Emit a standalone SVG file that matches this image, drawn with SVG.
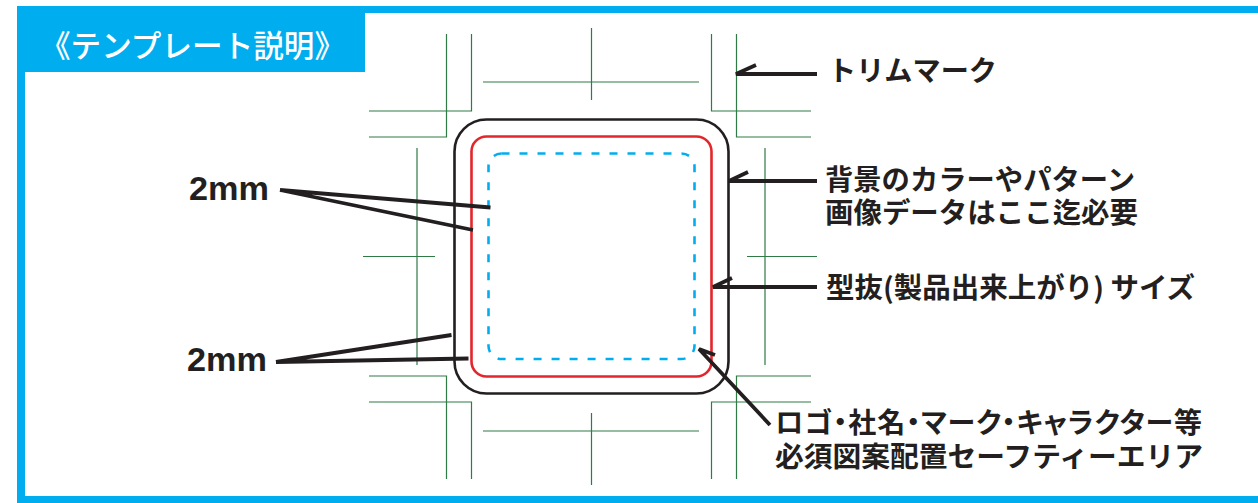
<svg xmlns="http://www.w3.org/2000/svg" width="1258" height="503" viewBox="0 0 1258 503">
<style>
.trim{stroke:#2f7a45;stroke-width:1.2;fill:none}
.lead{stroke:#231f20;stroke-width:3.8;fill:none;stroke-linejoin:miter;stroke-linecap:butt}
.lbl{font-family:"Noto Sans CJK JP","Noto Sans",sans-serif;font-size:28px;font-weight:700;fill:#231f20}
.palt{font-feature-settings:"palt"}
.mm{font-family:"Liberation Sans",Arial,sans-serif;font-size:34px;font-weight:700;fill:#231f20}
.title{font-family:"Noto Sans CJK JP","Noto Sans",sans-serif;font-size:31px;font-weight:500;fill:#ffffff}
</style>
<rect x="0" y="0" width="1258" height="503" fill="#ffffff"/>
<g id="frame">
<rect x="17" y="6" width="1300" height="600" fill="#00aeef"/>
<rect x="25" y="13" width="1300" height="483" fill="#ffffff"/>
<rect x="17" y="6" width="348" height="66" fill="#00aeef"/>
<text class="title" x="40" y="57" textLength="305" lengthAdjust="spacingAndGlyphs">《テンプレート説明》</text>
</g>
<g id="trim-marks">
<path class="trim" d="M446.5,34V137H369M471.5,34V111H369"/>
<path class="trim" d="M736.5,34V137H811M711.5,34V111H811"/>
<path class="trim" d="M446.5,479V376H369M471.5,479V402H369"/>
<path class="trim" d="M736.5,479V376H811M711.5,479V402H811"/>
<path class="trim" d="M591.5,28V100M483,82H699"/>
<path class="trim" d="M591.5,413V485M483,431H699"/>
<path class="trim" d="M417,148V365M363,256.5H435"/>
<path class="trim" d="M765,148V365M747,256.5H817"/>
</g>
<g id="bleed">
<rect x="454.5" y="119.5" width="274" height="274" rx="32" ry="32" fill="none" stroke="#231f20" stroke-width="2.6"/>
</g>
<g id="cut">
<rect x="471.5" y="136.5" width="240" height="240" rx="15" ry="15" fill="none" stroke="#e3262b" stroke-width="2.6"/>
</g>
<g id="safe">
<rect x="488.5" y="153.5" width="206" height="205.5" rx="13" ry="13" fill="none" stroke="#00aeef" stroke-width="2.6" stroke-dasharray="8 10"/>
</g>
<g id="connectors">
<path class="lead" d="M756,65L736,74H817"/>
<path class="lead" d="M748,172L729,181H817"/>
<path class="lead" d="M732,278L713,287H817"/>
<path class="lead" d="M715,355L699,349L770,425"/>
<path class="lead" d="M280,190L490.5,207.5M280,190L473,230"/>
<path class="lead" d="M276,362L451.5,335M276,362L468.5,358.5"/>
</g>
<g id="label-trim"><text class="lbl" x="828" y="81" textLength="169" lengthAdjust="spacingAndGlyphs">トリムマーク</text></g>
<g id="label-bg">
<text class="lbl" x="825" y="190" textLength="310" lengthAdjust="spacingAndGlyphs">背景のカラーやパターン</text>
<text class="lbl" x="825" y="223" textLength="313" lengthAdjust="spacingAndGlyphs">画像データはここ迄必要</text>
</g>
<g id="label-cut"><text class="lbl" x="826" y="298" textLength="369" lengthAdjust="spacingAndGlyphs">型抜(製品出来上がり) サイズ</text></g>
<g id="label-safe">
<text class="lbl palt" x="775" y="433" textLength="427" lengthAdjust="spacing">ロゴ・社名・マーク・キャラクター等</text>
<text class="lbl" x="775" y="467" textLength="428" lengthAdjust="spacingAndGlyphs">必須図案配置セーフティーエリア</text>
</g>
<g id="label-2mm-top"><text class="mm" x="189" y="200" textLength="80" lengthAdjust="spacingAndGlyphs">2mm</text></g>
<g id="label-2mm-bottom"><text class="mm" x="187" y="371" textLength="80" lengthAdjust="spacingAndGlyphs">2mm</text></g>
</svg>
